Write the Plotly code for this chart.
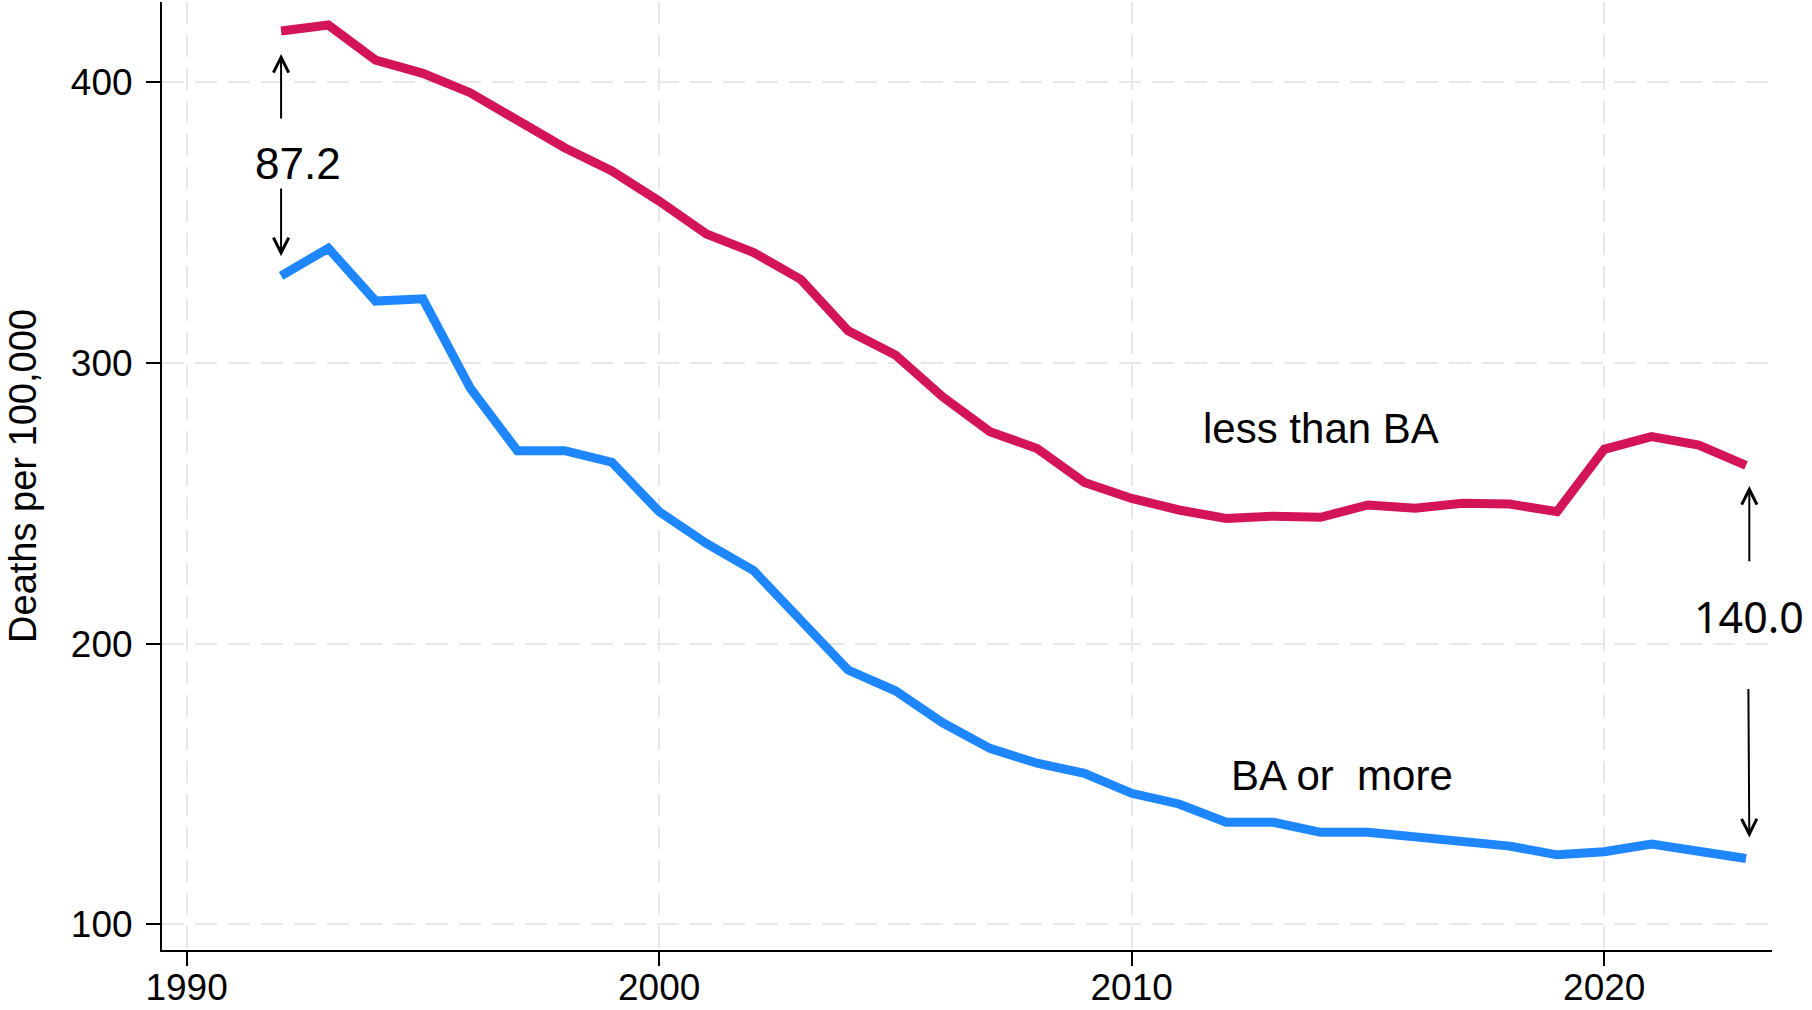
import plotly.graph_objects as go

years = list(range(1992, 2024))

less_than_ba = [418.2, 420.3, 407.8, 403.1, 396.2, 386.7, 376.6, 368.3, 357.6, 345.9,
                339.3, 329.7, 311.4, 302.8, 287.9, 275.5, 269.5, 257.4, 251.7, 247.6,
                244.6, 245.4, 245.0, 249.4, 248.2, 250.0, 249.7, 247.0, 269.2, 273.7,
                270.7, 263.5]

ba_or_more = [331.0, 340.8, 322.0, 322.8, 291.1, 268.7, 268.7, 264.6, 247.0, 235.7,
              226.0, 208.4, 190.6, 183.2, 171.8, 162.7, 157.4, 153.8, 146.7, 142.9,
              136.4, 136.4, 132.8, 132.8, 130.9, 129.5, 127.9, 124.8, 125.9, 128.6,
              125.7, 123.5]

x_ticks = [1990, 2000, 2010, 2020]
y_ticks = [100, 200, 300, 400]

gap_start = round(less_than_ba[0] - ba_or_more[0], 1)
gap_end = round(less_than_ba[-1] - ba_or_more[-1], 1)

RED = "#D41459"
BLUE = "#1E87FF"
FONT = "Liberation Sans, Arial, Helvetica, sans-serif"

fig = go.Figure()
fig.add_trace(go.Scatter(x=years, y=less_than_ba, mode="lines",
                         line=dict(color=RED, width=9), name="less than BA"))
fig.add_trace(go.Scatter(x=years, y=ba_or_more, mode="lines",
                         line=dict(color=BLUE, width=9), name="BA or more"))

annotations = []
# series labels
annotations.append(dict(x=2014.0, y=276.5, xref="x", yref="y", text="less than BA",
                        showarrow=False, font=dict(family=FONT, size=42, color="black")))
annotations.append(dict(x=2014.45, y=153.0, xref="x", yref="y", text="BA or\u00a0 more",
                        showarrow=False, font=dict(family=FONT, size=42, color="black")))
# gap labels
annotations.append(dict(x=1992.35, y=371.0, xref="x", yref="y", text=f"{gap_start:.1f}",
                        showarrow=False, font=dict(family=FONT, size=44, color="black")))
annotations.append(dict(x=2023.07, y=209.8, xref="x", yref="y", text=f"{gap_end:.1f}",
                        showarrow=False, font=dict(family="Noto Sans, sans-serif", size=43, color="black")))

arrow_common = dict(xref="x", yref="y", axref="x", ayref="y", text="", showarrow=True,
                    arrowhead=5, arrowsize=1.5, arrowwidth=2, arrowcolor="black", standoff=0)
# left arrows
annotations.append(dict(x=1992.0, y=410.0, ax=1992.0, ay=386.5, **arrow_common))
annotations.append(dict(x=1992.0, y=338.0, ax=1992.0, ay=362.6, **arrow_common))
# right arrows
annotations.append(dict(x=2023.07, y=256.1, ax=2023.07, ay=228.8, **arrow_common))
annotations.append(dict(x=2023.07, y=131.0, ax=2023.05, ay=184.4, **arrow_common))

fig.update_layout(
    width=1812, height=1010,
    margin=dict(l=162, r=40, t=2, b=60, autoexpand=False),
    paper_bgcolor="white", plot_bgcolor="white",
    showlegend=False,
    font=dict(family=FONT, color="black"),
    annotations=annotations,
)

grid_common = dict(showgrid=True, gridcolor="#E7E7E7", gridwidth=2, griddash="22px,11px",
                   zeroline=False, showline=True, linecolor="black", linewidth=2,
                   ticks="outside", ticklen=14, tickwidth=2, tickcolor="black",
                   tickfont=dict(family=FONT, size=37, color="black"))

fig.update_xaxes(range=[1989.48, 2023.55], tickvals=x_ticks, ticktext=[str(v) for v in x_ticks],
                 automargin=False, ticklabelstandoff=-10, **grid_common)
fig.update_yaxes(range=[90.9, 428.5], tickvals=y_ticks, ticktext=[str(v) for v in y_ticks],
                 automargin=True, ticklabelstandoff=6,
                 title=dict(text="Deaths per 100,000", font=dict(family=FONT, size=38, color="black"),
                            standoff=23),
                 **grid_common)

fig.write_html("out.html", config={"displayModeBar": False},
               post_script="document.body.style.margin='0px';document.body.style.overflow='hidden';")
